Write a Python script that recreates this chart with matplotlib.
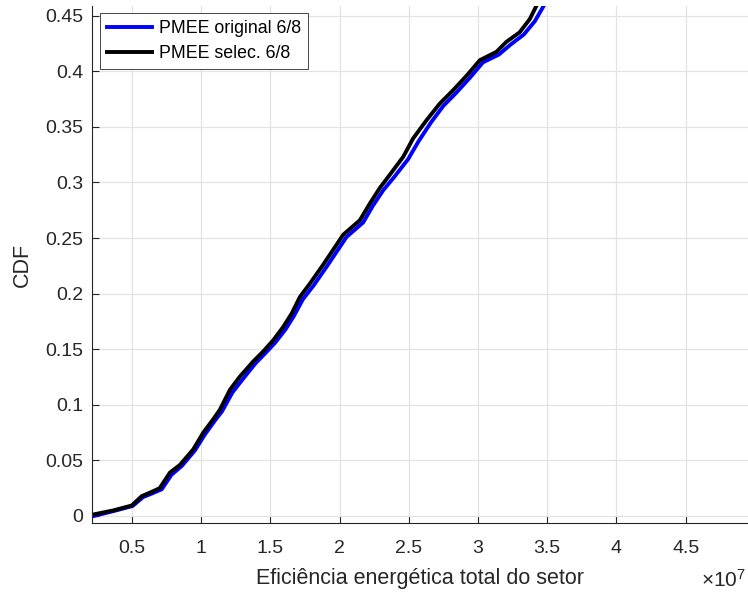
import matplotlib
matplotlib.use('Agg')
import matplotlib.pyplot as plt

plt.rcParams['font.family'] = ['Liberation Sans', 'DejaVu Sans']
plt.rcParams['mathtext.fontset'] = 'custom'
plt.rcParams['mathtext.rm'] = 'Liberation Sans'
plt.rcParams['mathtext.it'] = 'Liberation Sans'

# eficiencia (x1e7) e CDF, PMEE selecionado 6/8
sel_x = [0.22, 0.365, 0.498, 0.57, 0.63, 0.70, 0.774, 0.847, 0.943, 1.015,
         1.087, 1.135, 1.208, 1.28, 1.376, 1.448, 1.52, 1.592, 1.653, 1.713,
         1.785, 1.881, 2.026, 2.146, 2.218, 2.29, 2.363, 2.459, 2.531, 2.628,
         2.724, 2.82, 2.917, 3.013, 3.133, 3.205, 3.30, 3.374, 3.422]
sel_y = [0.0013, 0.005, 0.0094, 0.0178, 0.021, 0.025, 0.039, 0.046, 0.060, 0.075,
         0.087, 0.0956, 0.1136, 0.1255, 0.139, 0.148, 0.158, 0.170, 0.182, 0.197,
         0.209, 0.226, 0.253, 0.266, 0.281, 0.295, 0.307, 0.323, 0.3396, 0.356,
         0.371, 0.383, 0.396, 0.410, 0.4175, 0.4265, 0.435, 0.447, 0.459]

# PMEE original 6/8
orig_x = [0.225, 0.37, 0.505, 0.58, 0.64, 0.715, 0.785, 0.86, 0.955, 1.025,
          1.10, 1.15, 1.225, 1.30, 1.39, 1.46, 1.535, 1.61, 1.67, 1.735,
          1.81, 1.905, 2.05, 2.17, 2.24, 2.315, 2.395, 2.495, 2.57, 2.66,
          2.75, 2.845, 2.94, 3.035, 3.15, 3.235, 3.33, 3.41, 3.475]
orig_y = [0.0, 0.0045, 0.009, 0.017, 0.020, 0.024, 0.037, 0.045, 0.059, 0.073,
          0.086, 0.094, 0.111, 0.123, 0.137, 0.146, 0.156, 0.168, 0.180, 0.195,
          0.207, 0.224, 0.251, 0.264, 0.279, 0.293, 0.305, 0.321, 0.337, 0.354,
          0.369, 0.381, 0.394, 0.408, 0.415, 0.424, 0.433, 0.445, 0.459]

xticks = [0.5, 1, 1.5, 2, 2.5, 3, 3.5, 4, 4.5]
yticks = [0, 0.05, 0.1, 0.15, 0.2, 0.25, 0.3, 0.35, 0.4, 0.45]

fig = plt.figure(figsize=(7.48, 5.95), dpi=100)
ax = fig.add_axes([0.1226, 0.1205, 0.8774, 0.8694])

ax.plot(orig_x, orig_y, color='#0000ff', lw=2.8, label='PMEE original 6/8', solid_joinstyle='round')
ax.plot(sel_x, sel_y, color='black', lw=2.8, label='PMEE selec. 6/8', solid_joinstyle='round')

ax.set_xlim(0.209, 4.95)
ax.set_ylim(-0.0066, 0.4587)
ax.set_xticks(xticks)
ax.set_xticklabels(['%g' % t for t in xticks])
ax.set_yticks(yticks)
ax.set_yticklabels(['%g' % t for t in yticks])

ax.grid(True, color='#e3e3e3', lw=0.9)
ax.set_axisbelow(True)
for s in ['top', 'right']:
    ax.spines[s].set_visible(False)
for s in ['left', 'bottom']:
    ax.spines[s].set_color('#262626')
    ax.spines[s].set_linewidth(0.8)
ax.tick_params(direction='in', length=5, width=0.8, color='#262626',
               labelcolor='#262626', labelsize=14)
ax.tick_params(axis='y', pad=6)
ax.tick_params(axis='x', pad=12)

ax.set_xlabel('Eficiência energética total do setor', fontsize=15.5, color='#262626', labelpad=8)
ax.set_ylabel('CDF', fontsize=15.5, color='#262626', labelpad=9)
fig.text(0.997, 1 - 587 / 595, r'$\times10^{7}$', ha='right', va='baseline',
         fontsize=15, color='#262626')

leg = ax.legend(loc='upper left', bbox_to_anchor=(0.013, 0.987), fontsize=12.8,
                frameon=True, fancybox=False, framealpha=1, borderpad=0.4,
                handlelength=2.5, handletextpad=0.4, labelspacing=0.45,
                borderaxespad=0)
leg.get_frame().set_edgecolor('#262626')
leg.get_frame().set_linewidth(0.6)

fig.savefig('out.png', dpi=100)
